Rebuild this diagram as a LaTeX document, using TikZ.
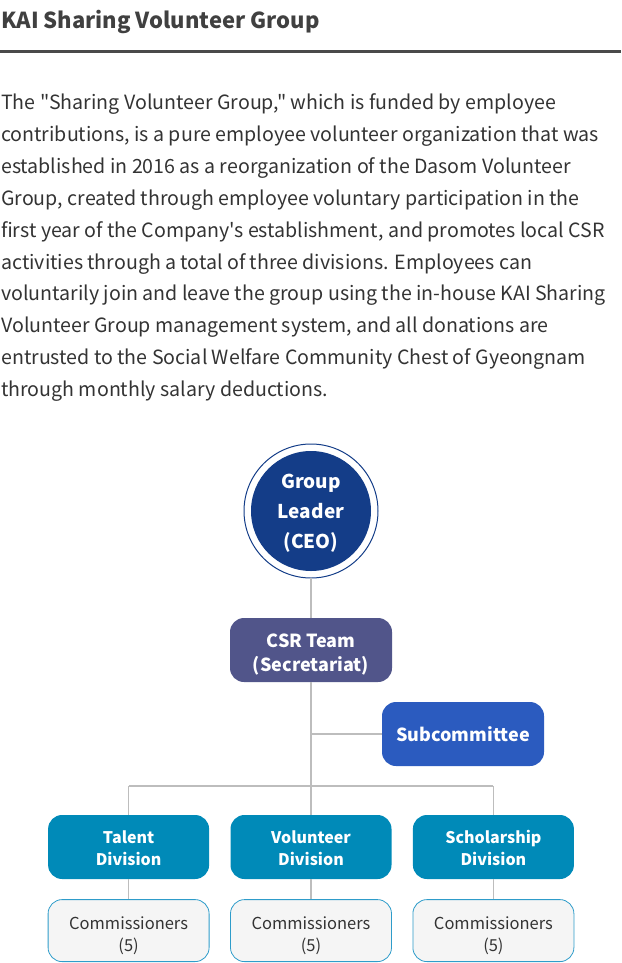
\documentclass[tikz,border=0pt]{standalone}
\usepackage{fontspec}
\newfontfamily\krfont{Noto Sans CJK KR}
\usepackage{tikz}
\usetikzlibrary{positioning}

\definecolor{titlegray}{HTML}{404040}
\definecolor{rulegray}{HTML}{4A4A4A}
\definecolor{textgray}{HTML}{333333}
\definecolor{leadblue}{HTML}{143D88}
\definecolor{csrpurple}{HTML}{51558A}
\definecolor{subblue}{HTML}{2B5BBF}
\definecolor{divteal}{HTML}{008AB8}
\definecolor{comfill}{HTML}{F5F5F5}
\definecolor{comline}{HTML}{2E9CCA}
\definecolor{linkgray}{HTML}{BDBDBD}

\begin{document}
\begin{tikzpicture}[x=1pt, y=-1pt,
  ttl/.style={font=\krfont\fontsize{22}{26}\selectfont\bfseries, text=titlegray, inner sep=0},
  body/.style={font=\krfont\fontsize{19.6}{24}\selectfont, text=textgray, inner sep=0},
  lead/.style={circle, fill=leadblue, minimum size=120pt, outer sep=7pt, text=white, align=center,
    font=\krfont\fontsize{19}{30}\selectfont\bfseries, text height=77pt, text depth=2pt},
  box/.style={rounded corners=14pt, minimum width=162pt, minimum height=64pt, align=center, inner sep=0},
  csr/.style={box, fill=csrpurple, text=white, font=\krfont\fontsize{18}{24}\selectfont\bfseries,
    text height=45pt, text depth=3pt},
  sub/.style={box, fill=subblue, text=white, font=\krfont\fontsize{18}{24}\selectfont\bfseries},
  div/.style={box, minimum width=161pt, fill=divteal, text=white, font=\krfont\fontsize{16}{22}\selectfont\bfseries,
    text height=40pt, text depth=3pt},
  com/.style={box, minimum width=161pt, minimum height=62pt, fill=comfill, draw=comline, line width=0.8pt,
    text=textgray, font=\krfont\fontsize{16.5}{22}\selectfont, text height=43pt, text depth=2pt},
  link/.style={draw=linkgray, line width=1.5pt}
]
\useasboundingbox (0,0) rectangle (621,963);

% heading
\node[ttl, anchor=base west] (title) at (1,29) {KAI Sharing Volunteer Group};
\coordinate (rl) at (0,51.5);
\coordinate (rr) at (621,51.5);
\draw[rulegray, line width=3pt] (rl) -- (rr);

% description
\foreach \ln [count=\i] in {
  {The "Sharing Volunteer Group," which is funded by employee},
  {contributions, is a pure employee volunteer organization that was},
  {established in 2016 as a reorganization of the Dasom Volunteer},
  {Group, created through employee voluntary participation in the},
  {first year of the Company's establishment, and promotes local CSR},
  {activities through a total of three divisions. Employees can},
  {voluntarily join and leave the group using the in-house KAI Sharing},
  {Volunteer Group management system, and all donations are},
  {entrusted to the Social Welfare Community Chest of Gyeongnam},
  {through monthly salary deductions.}}
  \node[body, anchor=base west] (p\i) at (1,{110+31.8*(\i-1)}) {\ln};

% chart
\node[lead] (ceo) at (311,511) {Group\\Leader\\(CEO)};
\draw[leadblue, line width=1pt] (ceo.center) circle (67);
\node[csr] (csr) at (311,650) {CSR Team\\(Secretariat)};
\node[sub] (sub) at (463,734) {Subcommittee};

\node[div] (vol) at (311,847) {Volunteer\\Division};
\node[div, left=21pt of vol] (tal) {Talent\\Division};
\node[div, right=21pt of vol] (sch) {Scholarship\\Division};
\node[com, below=20pt of tal] (talc) {Commissioners\\(5)};
\node[com, below=20pt of vol] (volc) {Commissioners\\(5)};
\node[com, below=20pt of sch] (schc) {Commissioners\\(5)};

\coordinate (bar) at (311,786);

\draw[link] (ceo) -- (csr);
\draw[link] (csr) -- (vol);
\draw[link] (csr.south |- sub) -- (sub);
\draw[link] (tal |- bar) -- (sch |- bar);
\draw[link] (tal |- bar) -- (tal);
\draw[link] (sch |- bar) -- (sch);
\draw[link] (tal) -- (talc);
\draw[link] (vol) -- (volc);
\draw[link] (sch) -- (schc);
\end{tikzpicture}
\end{document}
